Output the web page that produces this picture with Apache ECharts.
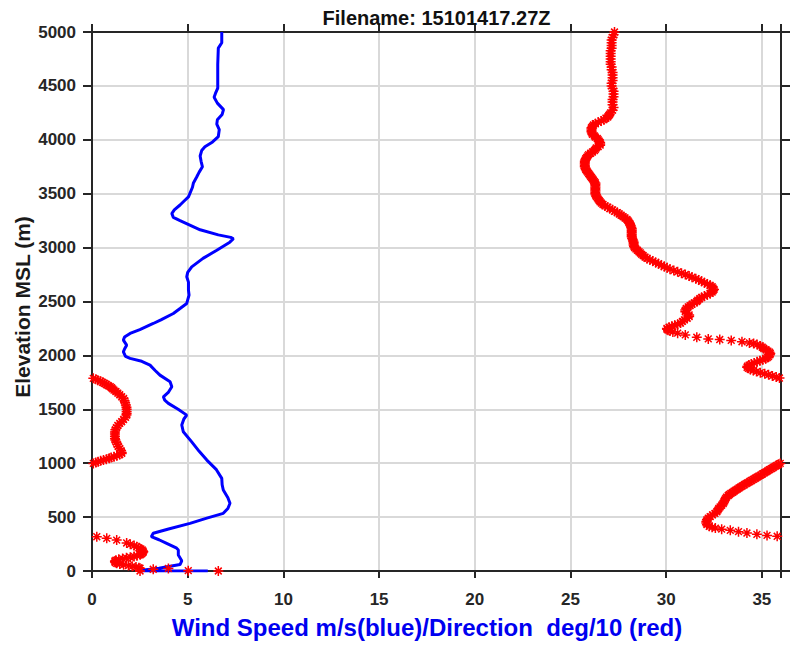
<!DOCTYPE html>
<html>
<head>
<meta charset="utf-8">
<title>Wind profile 15101417.27Z</title>
<script src="https://cdn.jsdelivr.net/npm/echarts@6/dist/echarts.min.js"></script>
<style>
  html, body { margin: 0; padding: 0; background: #ffffff; }
  #chart { width: 793px; height: 645px; }
</style>
</head>
<body>
<div id="chart"></div>
<script>
// Tick positions for both axes
const xTicks = [0, 5, 10, 15, 20, 25, 30, 35];
const yTicks = [0, 500, 1000, 1500, 2000, 2500, 3000, 3500, 4000, 4500, 5000];

// Wind speed (m/s) against elevation (m)
const speedProfile = [
  [6.78,5000],[6.78,4900],[6.6,4850],[6.57,4700],[6.57,4480],[6.45,4430],[6.38,4395],[6.55,4340],
  [6.87,4280],[6.8,4235],[6.55,4185],[6.52,4145],[6.65,4095],[6.6,4030],[6.3,3980],[5.9,3935],
  [5.73,3900],[5.65,3850],[5.7,3800],[5.77,3750],[5.6,3700],[5.47,3655],[5.3,3600],[5.25,3560],
  [5.04,3470],[4.8,3430],[4.6,3395],[4.3,3350],[4.17,3316],[4.25,3280],[4.6,3250],[5.65,3165],
  [6.6,3118],[7.25,3095],[7.39,3082],[7.2,3050],[6.52,2976],[5.8,2900],[5.21,2821],[5.0,2770],
  [4.95,2729],[5.04,2680],[5.04,2605],[5.07,2560],[4.95,2482],[4.6,2435],[4.25,2389],[3.6,2330],
  [3.2,2296],[2.5,2240],[1.99,2204],[1.7,2170],[1.64,2142],[1.81,2095],[1.7,2060],[1.64,2033],
  [1.75,1990],[1.99,1972],[2.6,1945],[3.03,1910],[3.3,1860],[3.55,1817],[4.08,1755],[4.17,1709],
  [4.0,1660],[3.73,1616],[3.8,1585],[3.99,1555],[4.5,1500],[4.95,1446],[4.8,1410],[4.69,1354],
  [4.77,1292],[5.2,1200],[5.6,1110],[6.0,1029],[6.5,940],[6.78,859],[6.8,800],[6.86,751],
  [7.1,680],[7.21,628],[7.1,580],[6.86,535],[6.0,490],[5.12,442],[4.0,390],[3.2,350],
  [3.1,318],[3.5,290],[3.9,257],[4.4,215],[4.51,195],[4.51,148],[4.69,95],[4.6,60],
  [3.5,25],[2.6,8],[2.5,0],[6.05,0]
];

// Wind direction (deg/10) against elevation (m), upper layer
const directionUpper = [
  [27.3,5000],[27.25,4975],[27.2,4950],[27.15,4925],[27.15,4900],[27.15,4875],[27.15,4850],[27.1,4825],
  [27.1,4800],[27.1,4775],[27.1,4750],[27.1,4725],[27.1,4700],[27.15,4675],[27.15,4650],[27.2,4625],
  [27.2,4600],[27.2,4575],[27.2,4550],[27.15,4525],[27.15,4500],[27.2,4475],[27.25,4450],[27.25,4425],
  [27.25,4400],[27.2,4375],[27.2,4350],[27.2,4325],[27.25,4300],[27.2,4275],[27.1,4250],[27.05,4237],
  [27.0,4225],[26.95,4212],[26.85,4200],[26.75,4187],[26.6,4175],[26.45,4162],[26.3,4150],[26.2,4137],
  [26.15,4125],[26.1,4112],[26.1,4100],[26.1,4087],[26.1,4075],[26.12,4062],[26.15,4050],[26.25,4037],
  [26.3,4025],[26.4,4012],[26.45,4000],[26.5,3987],[26.55,3975],[26.55,3962],[26.55,3950],[26.45,3937],
  [26.35,3925],[26.3,3912],[26.25,3900],[26.15,3887],[26.05,3875],[25.95,3862],[25.9,3850],[25.85,3837],
  [25.8,3825],[25.77,3812],[25.75,3800],[25.75,3787],[25.75,3775],[25.75,3762],[25.75,3750],[25.78,3737],
  [25.8,3725],[25.85,3712],[25.9,3700],[25.95,3687],[26.0,3675],[26.05,3662],[26.1,3650],[26.15,3637],
  [26.2,3625],[26.25,3612],[26.3,3600],[26.3,3587],[26.3,3575],[26.3,3562],[26.3,3550],[26.3,3537],
  [26.3,3525],[26.3,3512],[26.3,3500],[26.32,3487],[26.35,3475],[26.4,3462],[26.45,3450],[26.5,3437],
  [26.55,3425],[26.62,3412],[26.7,3400],[26.8,3387],[26.95,3375],[27.05,3362],[27.2,3350],[27.3,3337],
  [27.45,3325],[27.55,3312],[27.65,3300],[27.75,3287],[27.85,3275],[27.95,3262],[28.0,3250],[28.05,3237],
  [28.1,3225],[28.12,3212],[28.15,3200],[28.18,3187],[28.2,3175],[28.2,3162],[28.2,3150],[28.2,3137],
  [28.2,3125],[28.2,3112],[28.2,3100],[28.22,3087],[28.25,3075],[28.28,3062],[28.3,3050],[28.3,3037],
  [28.3,3025],[28.32,3012],[28.35,3000],[28.42,2987],[28.5,2975],[28.58,2962],[28.65,2950],[28.72,2937],
  [28.8,2925],[28.9,2912],[29.0,2900],[29.15,2887],[29.3,2875],[29.45,2862],[29.6,2850],[29.75,2837],
  [29.9,2825],[30.05,2812],[30.2,2800],[30.4,2787],[30.6,2775],[30.8,2762],[31.0,2750],[31.2,2737],
  [31.35,2725],[31.55,2712],[31.7,2700],[31.85,2687],[32.0,2675],[32.15,2662],[32.3,2650],[32.4,2637],
  [32.45,2625],[32.5,2612],[32.45,2600],[32.4,2587],[32.3,2575],[32.15,2562],[32.0,2550],[31.85,2537],
  [31.75,2525],[31.65,2512],[31.6,2500],[31.47,2487],[31.35,2475],[31.25,2462],[31.15,2450],[31.05,2435],
  [31.0,2420],[31.0,2405],[31.1,2390],[31.2,2375],[31.2,2360],[31.1,2345],[30.95,2330],[30.85,2315],
  [30.75,2300],[30.6,2290],[30.45,2280],[30.3,2270],[30.15,2260],[30.04,2250]
];

// Wind direction (deg/10), middle layer (wraps through north near 1790 m and 1000 m)
const directionMiddle = [
  [30.05,2242],[30.1,2234],[30.2,2226],[30.35,2218],[30.6,2206],[31.0,2190],[31.6,2168],[32.2,2153],
  [32.8,2147],[33.4,2139],[33.96,2127],[34.35,2116],[34.57,2110],[34.75,2100],[34.92,2088],[35.02,2076],
  [35.1,2064],[35.22,2052],[35.32,2040],[35.4,2030],[35.44,2018],[35.42,2005],[35.35,1990],[35.28,1980],
  [35.2,1970],[35.05,1960],[34.9,1950],[34.75,1940],[34.6,1930],[34.45,1920],[34.33,1910],[34.25,1900],
  [34.23,1890],[34.3,1880],[34.4,1870],[34.55,1860],[34.72,1850],[34.92,1840],[35.15,1830],[35.35,1820],
  [35.55,1810],[35.75,1800],[35.92,1790],
  [0.07,1787],[0.2,1778],[0.3,1770],[0.45,1760],[0.55,1750],[0.65,1740],[0.75,1730],[0.85,1720],
  [0.95,1710],[1.02,1700],[1.08,1690],[1.15,1678],[1.25,1665],[1.35,1650],[1.45,1635],[1.55,1616],
  [1.65,1600],[1.7,1580],[1.73,1560],[1.77,1540],[1.8,1520],[1.81,1500],[1.81,1480],[1.81,1460],
  [1.8,1446],[1.75,1425],[1.65,1405],[1.55,1385],[1.45,1369],[1.35,1350],[1.28,1330],[1.22,1310],
  [1.2,1290],[1.2,1270],[1.2,1250],[1.2,1230],[1.22,1215],[1.27,1195],[1.32,1175],[1.37,1155],
  [1.45,1135],[1.52,1115],[1.55,1100],[1.55,1091],[1.45,1080],[1.3,1070],[1.15,1060],[1.0,1052],
  [0.9,1045],[0.75,1037],[0.6,1030],[0.45,1022],[0.32,1014],[0.2,1006],[0.07,998]
];

// Wind direction (deg/10), lower layer
const directionLower = [
  [35.96,998],[35.88,990],[35.78,980],[35.69,970],[35.59,960],[35.5,950],[35.4,940],[35.31,930],
  [35.22,920],[35.13,910],[35.03,900],[34.94,890],[34.84,880],[34.75,870],[34.65,860],[34.56,850],
  [34.46,840],[34.37,830],[34.27,820],[34.18,810],[34.08,800],[33.98,790],[33.9,780],[33.81,770],
  [33.72,760],[33.64,750],[33.55,740],[33.47,730],[33.38,720],[33.3,710],[33.24,700],[33.15,685],
  [33.1,670],[33.05,655],[33.02,640],[32.98,625],[32.9,610],[32.82,595],[32.75,580],[32.7,565],
  [32.65,550],[32.55,535],[32.42,520],[32.3,505],[32.2,490],[32.13,475],[32.1,460],[32.1,445],
  [32.13,430],[32.25,415],[32.4,405],[32.57,398],[32.9,388],[33.35,377],[33.78,365],[34.22,352],
  [34.74,340],[35.27,330],[35.8,322],
  [0.25,318],[0.77,303],[1.29,287],[1.81,260],[2.0,247],[2.2,236],[2.34,226],[2.45,215],
  [2.55,205],[2.62,195],[2.66,186],[2.68,178],[2.65,170],[2.6,160],[2.52,151],[2.35,142],
  [2.2,135],[2.0,128],[1.8,122],[1.6,115],[1.4,108],[1.25,100],[1.2,93],[1.2,86],
  [1.22,78],[1.29,71],[1.45,64],[1.65,57],[1.9,50],[2.1,43],[2.3,36],[2.45,30],
  [2.51,25],[3.2,16],[3.99,24],[2.51,0],[5.03,3],[6.6,0]
];

const FONT = '"Liberation Sans", Arial, Helvetica, sans-serif';
const AXIS_COLOR = '#262626';
const GRID_COLOR = '#d9d9d9';
// MATLAB-style '*' marker: plus sign overlaid with a cross
const ASTERISK = 'path://M0,5L10,5M5,0L5,10M1.6,1.6L8.4,8.4M8.4,1.6L1.6,8.4';

const chart = echarts.init(document.getElementById('chart'), null, { renderer: 'svg' });

const tickFormatter = list => v => (list.indexOf(v) >= 0 ? String(v) : '');

const mainAxisLine = { show: true, onZero: false, lineStyle: { color: AXIS_COLOR, width: 2 } };

chart.setOption({
  animation: false,
  backgroundColor: '#ffffff',
  grid: { left: 92, right: 12, top: 32, bottom: 74, containLabel: false },
  xAxis: [
    {
      type: 'value', position: 'bottom', min: 0, max: 36, interval: 5,
      axisLine: mainAxisLine,
      axisTick: { show: true, inside: false, length: 7, lineStyle: { color: AXIS_COLOR, width: 2 } },
      axisLabel: {
        show: true, margin: 20, color: AXIS_COLOR, fontSize: 17, fontWeight: 'bold', fontFamily: FONT,
        formatter: tickFormatter(xTicks)
      },
      splitLine: { show: true, lineStyle: { color: GRID_COLOR, width: 2 } }
    },
    {
      type: 'value', position: 'top', min: 0, max: 36, interval: 5,
      axisLine: mainAxisLine,
      axisTick: { show: true, inside: false, length: 8, lineStyle: { color: AXIS_COLOR, width: 2 } },
      axisLabel: { show: false },
      splitLine: { show: false }
    }
  ],
  yAxis: [
    {
      type: 'value', position: 'left', min: 0, max: 5000, interval: 500,
      axisLine: mainAxisLine,
      axisTick: { show: true, inside: false, length: 9, lineStyle: { color: AXIS_COLOR, width: 2 } },
      axisLabel: {
        show: true, margin: 16, color: AXIS_COLOR, fontSize: 17, fontWeight: 'bold', fontFamily: FONT,
        formatter: tickFormatter(yTicks)
      },
      splitLine: { show: true, lineStyle: { color: GRID_COLOR, width: 2 } }
    },
    {
      type: 'value', position: 'right', min: 0, max: 5000, interval: 500,
      axisLine: mainAxisLine,
      axisTick: { show: true, inside: false, length: 9, lineStyle: { color: AXIS_COLOR, width: 2 } },
      axisLabel: { show: false },
      splitLine: { show: false }
    }
  ],
  graphic: [
    {
      type: 'text', x: 436.5, y: 18, z: 100,
      style: { text: 'Filename: 15101417.27Z', font: 'bold 20px ' + FONT, fill: '#111111', align: 'center', verticalAlign: 'middle' }
    },
    {
      type: 'text', x: 427, y: 627, z: 100,
      style: { text: 'Wind Speed m/s(blue)/Direction  deg/10 (red)', font: 'bold 24px ' + FONT, fill: '#0000f0', align: 'center', verticalAlign: 'middle' }
    },
    {
      type: 'text', x: 22, y: 307, rotation: Math.PI / 2, z: 100,
      style: { text: 'Elevation MSL (m)', font: 'bold 21px ' + FONT, fill: '#1a1a1a', align: 'center', verticalAlign: 'middle' }
    }
  ],
  series: [
    {
      name: 'Wind speed',
      type: 'line',
      xAxisIndex: 0, yAxisIndex: 0,
      data: speedProfile,
      showSymbol: false,
      smooth: false,
      clip: true,
      lineStyle: { color: '#0000ff', width: 3 },
      z: 3
    },
    {
      name: 'Wind direction',
      type: 'scatter',
      xAxisIndex: 0, yAxisIndex: 0,
      data: directionUpper.concat(directionMiddle, directionLower),
      symbol: ASTERISK,
      symbolSize: 10,
      itemStyle: { color: '#ff0000', borderColor: '#ff0000', borderWidth: 1.5, opacity: 1 },
      z: 4
    }
  ]
});
</script>
</body>
</html>
